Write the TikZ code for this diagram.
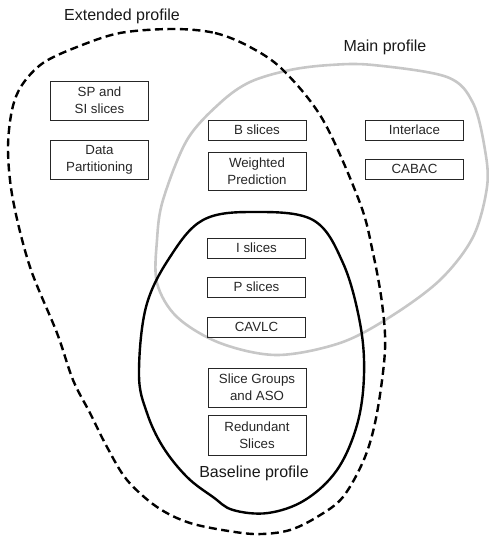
\documentclass[tikz,border=0pt]{standalone}
\usepackage{fontspec}
\setmainfont{Liberation Sans}
\begin{document}
\begin{tikzpicture}[x=1pt,y=-1pt,
  feat/.style={draw=black!85,line width=0.9pt,minimum width=98pt,inner sep=0pt,align=center,
    font=\fontsize{13.3}{16.8}\selectfont,text=black!85},
  onel/.style={feat,minimum height=20pt},
  twol/.style={feat,minimum height=39pt},
  lbl/.style={font=\fontsize{16}{19}\selectfont,text=black!90},
  extcurve/.style={draw=black,line width=2.4pt,dash pattern=on 8pt off 4.5pt},
  maincurve/.style={draw=black!22,line width=2.6pt},
  basecurve/.style={draw=black,line width=2.4pt}]
\useasboundingbox (0,0) rectangle (489,539);
% Main profile (gray)
\draw[maincurve] plot[smooth cycle,tension=0.55] coordinates {
 (373,65) (447,77) (473,103) (485,150) (487,187) (473,237) (440,280) (390,317)
 (340,343) (277,355) (220,343) (177,317) (157,283) (157,240) (163,200) (187,140)
 (220,103) (250,82) (290,70) (330,65)};
% Extended profile (dashed)
\draw[extcurve] plot[smooth cycle,tension=0.55] coordinates {
 (173,29) (215,33) (250,47) (283,70) (323,120) (360,203) (373,253) (382,303)
 (385,350) (377,413) (365,457) (343,497) (317,517) (290,530) (262,534) (235,532)
 (190,523) (157,507) (127,480) (107,447) (90,413) (73,380) (57,333) (30,267)
 (13,200) (8,150) (12,110) (22,85) (43,63) (77,47) (120,33)};
% Baseline profile (solid)
\draw[basecurve] plot[smooth cycle,tension=0.6] coordinates {
 (253,212) (313,220) (343,263) (360,323) (364,375) (357,425) (337,470) (305,500)
 (268,513) (233,510) (213,497) (187,477) (163,447) (147,413) (139,375) (146,307)
 (170,257) (203,220)};
% Labels
\node[lbl] (lext) at (122,16) {Extended profile};
\node[lbl] (lmain) at (385,47) {Main profile};
\node[lbl] (lbase) at (254,473) {Baseline profile};
% Features
\node[twol] (sp) at (99.5,100.5) {SP and\\SI slices};
\node[twol] (dp) at (99.5,159.5) {Data\\Partitioning};
\node[onel] (bs) at (257,130) {B slices};
\node[twol,minimum height=38pt] (wp) at (257,171) {Weighted\\Prediction};
\node[onel] (il) at (414.5,130) {Interlace};
\node[onel] (cabac) at (414.5,169) {CABAC};
\node[onel] (is) at (256.5,248) {I slices};
\node[onel] (ps) at (256.5,287) {P slices};
\node[onel] (cavlc) at (256.5,327) {CAVLC};
\node[twol] (sg) at (257,387.5) {Slice Groups\\and ASO};
\node[twol,minimum height=40pt] (rs) at (257,435) {Redundant\\Slices};
\end{tikzpicture}
\end{document}
